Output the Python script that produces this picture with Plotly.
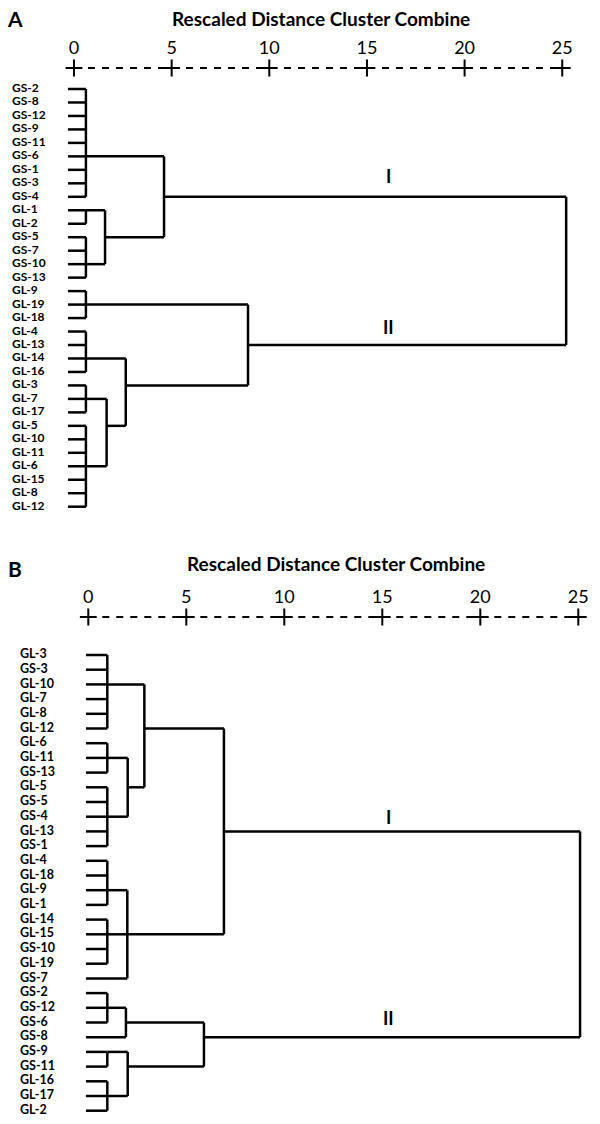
import plotly.graph_objects as go

# ---------------- data ----------------
# Panel A: leaf order (top to bottom)
A_leaves = ["GS-2", "GS-8", "GS-12", "GS-9", "GS-11", "GS-6", "GS-1", "GS-3", "GS-4",
            "GL-1", "GL-2", "GS-5", "GS-7", "GS-10", "GS-13",
            "GL-9", "GL-19", "GL-18", "GL-4", "GL-13", "GL-14", "GL-16",
            "GL-3", "GL-7", "GL-17", "GL-5", "GL-10", "GL-11", "GL-6", "GL-15", "GL-8", "GL-12"]
A_nodes = ["a1", "a2", "a3", "a4", "I", "a6", "a7", "a8", "a9", "a10", "a11", "II", "root"]
A_children = [
    ["GS-2", "GS-8", "GS-12", "GS-9", "GS-11", "GS-6", "GS-1", "GS-3", "GS-4"],
    ["GL-1", "GL-2"],
    ["GS-5", "GS-7", "GS-10", "GS-13"],
    ["a2", "a3"],
    ["a1", "a4"],
    ["GL-9", "GL-19", "GL-18"],
    ["GL-4", "GL-13", "GL-14", "GL-16"],
    ["GL-3", "GL-7", "GL-17"],
    ["GL-5", "GL-10", "GL-11", "GL-6", "GL-15", "GL-8", "GL-12"],
    ["a8", "a9"],
    ["a7", "a10"],
    ["a6", "a11"],
    ["I", "II"],
]
A_distance = [0.61, 0.61, 0.61, 1.59, 4.61, 0.61, 0.61, 0.61, 0.61, 1.67, 2.65, 8.91, 25.2]
A_joined_at = ["GS-6", "GL-1", "GS-10", "GS-5", "GS-4", "GL-19", "GL-14", "GL-7", "GL-6",
               "GL-5", "GL-3", "GL-13", None]

# Panel B
B_leaves = ["GL-3", "GS-3", "GL-10", "GL-7", "GL-8", "GL-12", "GL-6", "GL-11", "GS-13",
            "GL-5", "GS-5", "GS-4", "GL-13", "GS-1", "GL-4", "GL-18", "GL-9", "GL-1",
            "GL-14", "GL-15", "GS-10", "GL-19", "GS-7", "GS-2", "GS-12", "GS-6", "GS-8",
            "GS-9", "GS-11", "GL-16", "GL-17", "GL-2"]
B_nodes = ["b1", "b2", "b3", "b4", "b5", "b6", "b7", "b8", "I",
           "b10", "b11", "b12", "b13", "b14", "II", "root"]
B_children = [
    ["GL-3", "GS-3", "GL-10", "GL-7", "GL-8", "GL-12"],
    ["GL-6", "GL-11", "GS-13"],
    ["GL-5", "GS-5", "GS-4", "GL-13", "GS-1"],
    ["b2", "b3"],
    ["b1", "b4"],
    ["GL-4", "GL-18", "GL-9", "GL-1"],
    ["GL-14", "GL-15", "GS-10", "GL-19"],
    ["b6", "b7", "GS-7"],
    ["b5", "b8"],
    ["GS-2", "GS-12", "GS-6"],
    ["b10", "GS-8"],
    ["GS-9", "GS-11"],
    ["GL-16", "GL-17", "GL-2"],
    ["b12", "b13"],
    ["b11", "b14"],
    ["I", "II"],
]
B_distance = [0.97, 0.97, 0.97, 2.01, 2.86, 0.97, 0.97, 1.99, 6.92,
              0.97, 1.92, 0.97, 0.97, 2.01, 5.90, 25.09]
B_joined_at = ["GL-10", "GL-11", "GS-4", "GL-5", "GL-12", "GL-9", "GL-15", "GL-15", "GL-13",
               "GS-12", "GS-6", "GS-9", "GL-17", "GS-11", "GS-8", None]

tick_values = [0, 5, 10, 15, 20, 25]
tick_labels = ["0", "5", "10", "15", "20", "25"]
axis_title = "Rescaled Distance Cluster Combine"

# ---------------- layout constants ----------------
W, H = 600, 1124
FONT = "Lato"
SPLIT = 540  # pixel row dividing the two panels

panels = {
    "A": dict(leaves=A_leaves, nodes=A_nodes, children=A_children, dist=A_distance,
              joined=A_joined_at, x0_px=74, px_per_unit=19.53, row0_px=89, row_step=13.474,
              leaf_start=-0.31, axis_px=68, label_x_px=12, title_x_px=321, title_y_px=18,
              letter_y_px=18, top_px=0, bottom_px=SPLIT, leaf_font=12,
              roman_shift={"I": 21, "II": 18}, roman_x=16.08),
    "B": dict(leaves=B_leaves, nodes=B_nodes, children=B_children, dist=B_distance,
              joined=B_joined_at, x0_px=88.3, px_per_unit=19.6, row0_px=655, row_step=14.7,
              leaf_start=-0.12, axis_px=617, label_x_px=20, title_x_px=336, title_y_px=563,
              letter_y_px=568, top_px=SPLIT, bottom_px=H, leaf_font=12.5,
              roman_shift={"I": 14, "II": 19}, roman_x=15.34),
}


def dendro_segments(leaves, nodes, children, dist, joined, leaf_start):
    row = {lf: i for i, lf in enumerate(leaves)}
    node_d = dict(zip(nodes, dist))
    anchor = dict(zip(nodes, joined))
    parent = {}
    for n, ch in zip(nodes, children):
        for c in ch:
            parent[c] = n

    def r(name):
        return row[anchor[name]] if name in anchor else row[name]

    xs, ys = [], []
    for lf in leaves:
        xs += [leaf_start, node_d[parent[lf]], None]
        ys += [row[lf], row[lf], None]
    for n, ch, d in zip(nodes, children, dist):
        rows = [r(c) for c in ch]
        xs += [d, d, None]
        ys += [min(rows), max(rows), None]
        if n in parent:
            xs += [d, node_d[parent[n]], None]
            ys += [r(n), r(n), None]
    return xs, ys, r


fig = go.Figure()
annotations = []
layout_axes = {}

for k, (key, p) in enumerate(panels.items()):
    sfx = "" if k == 0 else str(k + 1)
    xref, yref = "x" + sfx, "y" + sfx
    xs, ys, rowof = dendro_segments(p["leaves"], p["nodes"], p["children"], p["dist"],
                                    p["joined"], p["leaf_start"])
    to_row = lambda px, p=p: (px - p["row0_px"]) / p["row_step"]
    to_x = lambda px, p=p: (px - p["x0_px"]) / p["px_per_unit"]

    # dendrogram branches
    fig.add_trace(go.Scatter(x=xs, y=ys, mode="lines", xaxis=xref, yaxis=yref,
                             line=dict(color="black", width=2.5), hoverinfo="skip",
                             showlegend=False))
    # leaf labels
    fig.add_trace(go.Scatter(x=[to_x(p["label_x_px"])] * len(p["leaves"]),
                             y=list(range(len(p["leaves"]))), text=p["leaves"],
                             mode="text", textposition="middle right",
                             textfont=dict(family=FONT, size=p["leaf_font"], color="black",
                                           weight="bold"),
                             xaxis=xref, yaxis=yref, hoverinfo="skip", showlegend=False))
    # dashed scale line with "+" at ticks
    ar = to_row(p["axis_px"])
    fig.add_trace(go.Scatter(x=[tick_values[0], tick_values[-1]], y=[ar, ar], mode="lines",
                             line=dict(color="black", width=2, dash="7px,7px"),
                             xaxis=xref, yaxis=yref, hoverinfo="skip", showlegend=False))
    fig.add_trace(go.Scatter(x=tick_values, y=[ar] * len(tick_values), mode="markers",
                             marker=dict(symbol="cross-thin", size=12,
                                         line=dict(color="black", width=2)),
                             xaxis=xref, yaxis=yref, hoverinfo="skip", showlegend=False))

    dom_y = [1 - p["bottom_px"] / H, 1 - p["top_px"] / H]
    layout_axes["xaxis" + sfx] = dict(
        range=[to_x(0), to_x(W)], domain=[0, 1], anchor="free",
        position=1 - p["axis_px"] / H, side="top", tickvals=tick_values, ticktext=tick_labels,
        ticks="outside", ticklen=7, tickcolor="rgba(0,0,0,0)", showline=False,
        showgrid=False, zeroline=False, tickfont=dict(family=FONT, size=18, color="black"),
        fixedrange=True)
    layout_axes["yaxis" + sfx] = dict(
        range=[to_row(p["bottom_px"]), to_row(p["top_px"])], domain=dom_y,
        anchor=xref, visible=False, fixedrange=True)

    # titles and panel letter
    annotations.append(dict(text=axis_title, x=p["title_x_px"] / W, y=1 - p["title_y_px"] / H,
                            xref="paper", yref="paper", showarrow=False, xanchor="center",
                            yanchor="middle",
                            font=dict(family=FONT, size=19, color="black", weight="bold")))
    annotations.append(dict(text=key, x=15 / W, y=1 - p["letter_y_px"] / H, xref="paper",
                            yref="paper", showarrow=False, xanchor="center", yanchor="middle",
                            font=dict(family=FONT, size=21, color="black", weight="bold")))
    for roman, shift in p["roman_shift"].items():
        annotations.append(dict(text=roman, x=p["roman_x"], y=rowof(roman), xref=xref,
                                yref=yref, showarrow=False, yshift=shift, xanchor="center",
                                yanchor="middle",
                                font=dict(family=FONT, size=18, color="black", weight="bold")))

fig.update_layout(width=W, height=H, margin=dict(l=0, r=0, t=0, b=0),
                  plot_bgcolor="white", paper_bgcolor="white", showlegend=False,
                  hovermode=False, annotations=annotations, **layout_axes)

fig.write_html("out.html",
               config={"displayModeBar": False, "staticPlot": True},
               post_script="document.body.style.margin='0px';"
                           "document.body.style.overflow='hidden';")
